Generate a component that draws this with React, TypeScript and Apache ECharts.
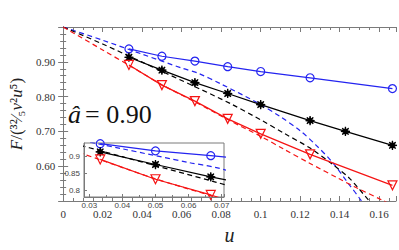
import React, { useEffect, useRef } from "react";
import * as echarts from "echarts";

// ---- data ----
const uMarked = [0.0333, 0.05, 0.0667, 0.0833, 0.1, 0.125, 0.1667];
const uBlackMarked = [0.0333, 0.05, 0.0667, 0.0833, 0.1, 0.125, 0.1429, 0.1667];
const fBlue = [0.937, 0.916, 0.902, 0.886, 0.872, 0.854, 0.823];
const fBlack = [0.913, 0.876, 0.840, 0.809, 0.777, 0.731, 0.700, 0.660];
const fRed = [0.891, 0.833, 0.787, 0.736, 0.693, 0.634, 0.545];

const uBlueDash = [0, 0.02, 0.04, 0.06, 0.0684, 0.08, 0.0991, 0.11, 0.12, 0.1281, 0.1362, 0.1443, 0.151, 0.155];
const fBlueDash = [1.0, 0.962, 0.922, 0.882, 0.867, 0.836, 0.780, 0.742, 0.702, 0.660, 0.612, 0.551, 0.50, 0.46];
const uBlackDash = [0, 0.02, 0.04, 0.0684, 0.085, 0.1007, 0.112, 0.125, 0.1362, 0.145, 0.155, 0.16];
const fBlackDash = [1.0, 0.951, 0.899, 0.824, 0.779, 0.731, 0.694, 0.652, 0.606, 0.565, 0.500, 0.47];
const uRedDash = [0, 0.02, 0.0333, 0.05, 0.0667, 0.085, 0.1, 0.112, 0.125, 0.14, 0.1475, 0.162, 0.17];
const fRedDash = [1.0, 0.934, 0.890, 0.834, 0.785, 0.729, 0.686, 0.648, 0.608, 0.563, 0.541, 0.501, 0.478];

const xTickValues = [0, 0.02, 0.04, 0.06, 0.08, 0.1, 0.12, 0.14, 0.16];
const xTickLabels = ["0", "0.02", "0.04", "0.06", "0.08", "0.1", "0.12", "0.14", "0.16"];
const yTickValues = [0.6, 0.7, 0.8, 0.9];
const yTickLabels = ["0.60", "0.70", "0.80", "0.90"];
const insetXTickValues = [0.03, 0.04, 0.05, 0.06, 0.07];
const insetXTickLabels = ["0.03", "0.04", "0.05", "0.06", "0.07"];
const insetYTickValues = [0.8, 0.85, 0.9];
const insetYTickLabels = ["0.8", "0.85", "0.9"];

const BLUE = "#2424f0";
const RED = "#f51414";
const BLACK = "#000000";
const AXIS = "#7a7a7a";
const SERIF = "Liberation Serif";
const SANS = "Liberation Sans";

function starPath(n: number, rIn: number): string {
  const pts: string[] = [];
  for (let i = 0; i < 2 * n; i++) {
    const r = i % 2 === 0 ? 10 : 10 * rIn;
    const a = (Math.PI * i) / n - Math.PI / 2;
    pts.push(`${(10 + r * Math.cos(a)).toFixed(2)} ${(10 + r * Math.sin(a)).toFixed(2)}`);
  }
  return "path://M" + pts.join(" L") + " Z";
}
const STAR = starPath(8, 0.3);

function pick(values: number[], labels: string[]) {
  return (v: number) => {
    const i = values.findIndex((t) => Math.abs(t - v) < 1e-6);
    return i >= 0 ? labels[i] : "";
  };
}

function zip(a: number[], b: number[]) {
  return a.map((x, i) => [x, b[i]]);
}

export default function App() {
  const ref = useRef<HTMLDivElement>(null);
  useEffect(() => {
    if (!ref.current) return;
    const chart = echarts.init(ref.current, null, { renderer: "svg" });

    const mkSeries = (inset: boolean) => {
      const xi = inset ? 2 : 0;
      const yi = inset ? 2 : 0;
      const z = inset ? 10 : 2;
      const solid = (name: string, u: number[], f: number[], color: string, symbol: string, size: number, rotate: number, fill: string) => ({
        type: "line",
        name,
        xAxisIndex: xi,
        yAxisIndex: yi,
        z,
        data: zip(u, f),
        symbol,
        symbolSize: size,
        symbolRotate: rotate,
        showAllSymbol: true,
        lineStyle: { color, width: 1.2 },
        itemStyle: { color: fill, borderColor: color, borderWidth: 1.2 },
        emphasis: { disabled: true },
        silent: true,
      });
      const dashed = (name: string, u: number[], f: number[], color: string) => ({
        type: "line",
        name,
        xAxisIndex: xi,
        yAxisIndex: yi,
        z,
        data: zip(u, f),
        smooth: 0.3,
        symbol: "none",
        lineStyle: { color, width: 1.2, type: [5, 3.5] },
        silent: true,
      });
      return [
        dashed("blueDash" + xi, uBlueDash, fBlueDash, BLUE),
        dashed("blackDash" + xi, uBlackDash, fBlackDash, BLACK),
        dashed("redDash" + xi, uRedDash, fRedDash, RED),
        solid("blue" + xi, uMarked, fBlue, BLUE, "circle", 8, 0, "rgba(255,255,255,0)"),
        solid("black" + xi, uBlackMarked, fBlack, BLACK, STAR, 9, 0, BLACK),
        solid("red" + xi, uMarked, fRed, RED, "triangle", 9, 180, "rgba(255,255,255,0)"),
      ];
    };

    const mainX = {
      type: "value",
      min: 0,
      max: 0.1685,
      interval: 0.02,
      splitLine: { show: false },
      axisLine: { lineStyle: { color: AXIS, width: 1 } },
      axisTick: { inside: true, length: 5, lineStyle: { color: AXIS } },
      minorTick: { show: true, splitNumber: 4, length: 3, lineStyle: { color: AXIS } },
    };
    const mainY = {
      type: "value",
      min: 0.5,
      max: 1.0,
      interval: 0.1,
      splitLine: { show: false },
      axisLine: { lineStyle: { color: AXIS, width: 1 } },
      axisTick: { inside: true, length: 5, lineStyle: { color: AXIS } },
      minorTick: { show: true, splitNumber: 5, length: 3, lineStyle: { color: AXIS } },
    };

    const it = { fontFamily: SERIF, fontStyle: "italic", fontSize: 17, color: "#222" };
    const up = { fontFamily: SERIF, fontStyle: "normal", fontSize: 17, color: "#222" };

    chart.setOption({
      animation: false,
      backgroundColor: "#ffffff",
      grid: [
        { left: 49, top: 27, width: 348, height: 187, show: false },
        { left: 84, top: 143, width: 140, height: 54, show: false },
      ],
      xAxis: [
        {
          ...mainX,
          gridIndex: 0,
          position: "bottom",
          name: "u",
          nameLocation: "middle",
          nameGap: 24,
          nameTextStyle: { fontFamily: SERIF, fontStyle: "italic", fontSize: 20, color: "#222" },
          axisLabel: {
            formatter: pick(xTickValues, xTickLabels),
            fontFamily: SERIF,
            fontSize: 11,
            color: "#333",
            margin: 7,
          },
        },
        { ...mainX, gridIndex: 0, position: "top", axisLabel: { show: false } },
        {
          type: "value",
          gridIndex: 1,
          min: 0.0284,
          max: 0.0707,
          splitNumber: 5,
          z: 12,
          splitLine: { show: false },
          axisLine: { lineStyle: { color: AXIS } },
          axisTick: { inside: true, length: 3, lineStyle: { color: AXIS } },
          minorTick: { show: true, splitNumber: 2, length: 2, lineStyle: { color: AXIS } },
          axisLabel: {
            formatter: pick(insetXTickValues, insetXTickLabels),
            fontFamily: SANS,
            fontSize: 8,
            color: "#444",
            margin: 4,
            showMinLabel: false,
            showMaxLabel: false,
          },
        },
      ],
      yAxis: [
        {
          ...mainY,
          gridIndex: 0,
          position: "left",
          name: "{i|F}{u|/(³²⁄₅}{i|ν}{u|²}{i|u}{u|⁵)}",
          nameLocation: "middle",
          nameGap: 30,
          nameTextStyle: {
            fontFamily: SERIF,
            fontSize: 17,
            color: "#222",
            rich: { i: it, u: up },
          },
          axisLabel: {
            formatter: pick(yTickValues, yTickLabels),
            fontFamily: SERIF,
            fontSize: 11,
            color: "#333",
            margin: 8,
          },
        },
        { ...mainY, gridIndex: 0, position: "right", axisLabel: { show: false } },
        {
          type: "value",
          gridIndex: 1,
          min: 0.781,
          max: 0.939,
          splitNumber: 3,
          z: 12,
          splitLine: { show: false },
          axisLine: { lineStyle: { color: AXIS } },
          axisTick: { inside: true, length: 3, lineStyle: { color: AXIS } },
          axisLabel: {
            formatter: pick(insetYTickValues, insetYTickLabels),
            fontFamily: SANS,
            fontSize: 8,
            color: "#444",
            margin: 4,
            showMinLabel: false,
            showMaxLabel: false,
          },
        },
      ],
      graphic: [
        {
          type: "rect",
          z: 5,
          silent: true,
          shape: { x: 84, y: 143, width: 140, height: 54 },
          style: { fill: "#ffffff", stroke: AXIS, lineWidth: 1 },
        },
        {
          type: "text",
          z: 6,
          x: 68,
          y: 101,
          silent: true,
          style: {
            text: "â",
            fontFamily: SERIF,
            fontStyle: "italic",
            fontSize: 26,
            fill: "#111",
          },
        },
        {
          type: "text",
          z: 6,
          x: 85,
          y: 101,
          silent: true,
          style: {
            text: "= 0.90",
            fontFamily: SERIF,
            fontSize: 26,
            fill: "#111",
          },
        },
      ],
      series: [...mkSeries(false), ...mkSeries(true)],
    });
    return () => chart.dispose();
  }, []);
  return (
    <div
      ref={ref}
      style={{ position: "fixed", left: 0, top: 0, width: 399, height: 250, background: "#fff" }}
    />
  );
}
